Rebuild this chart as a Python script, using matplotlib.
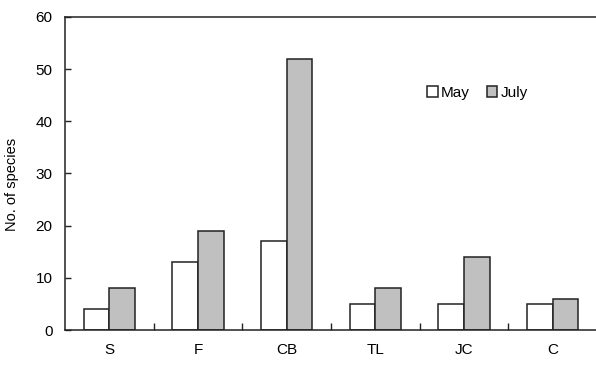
import matplotlib
matplotlib.use("Agg")
import matplotlib.pyplot as plt
import numpy as np

plt.rcParams['font.family'] = ['Liberation Sans', 'DejaVu Sans']

categories = ["S", "F", "CB", "TL", "JC", "C"]
may = [4, 13, 17, 5, 5, 5]
july = [8, 19, 52, 8, 14, 6]

fig = plt.figure(figsize=(5.96, 3.65), dpi=100)
ax = fig.add_axes([65/596, 1-330/365, 532/596, 313/365])

x = np.arange(len(categories))
w = 0.29
ax.bar(x - w/2, may, w, color="white", edgecolor="#222222", linewidth=1.1, label="May")
ax.bar(x + w/2, july, w, color="#C0C0C0", edgecolor="#222222", linewidth=1.1, label="July")

ax.set_xlim(-0.5, 5.5)
ax.set_ylim(0, 60)
ax.set_yticks(range(0, 61, 10))
ax.set_xticks(x)
ax.set_xticklabels(categories)
ax.set_xticks(np.arange(0.5, 5.0, 1.0), minor=True)
ax.tick_params(axis='x', which='major', length=0, pad=9, labelsize=11)
ax.tick_params(axis='x', which='minor', direction='in', length=5, width=1, color="#222222")
ax.tick_params(axis='y', direction='in', length=4, width=1, pad=9, labelsize=11, color="#222222")
for s in ['left', 'bottom', 'top']:
    ax.spines[s].set_color("#222222")
    ax.spines[s].set_linewidth(1.1)
ax.spines['right'].set_visible(False)

ax.set_ylabel("No. of species", fontsize=10.5)
ax.yaxis.set_label_coords(-0.087, 0.465)

ax.legend(loc='center', bbox_to_anchor=(0.775, 0.757), ncol=2, frameon=False,
          handlelength=0.7, handleheight=0.7, handletextpad=0.2,
          columnspacing=1.1, fontsize=11)

fig.savefig("out.png", dpi=100)
